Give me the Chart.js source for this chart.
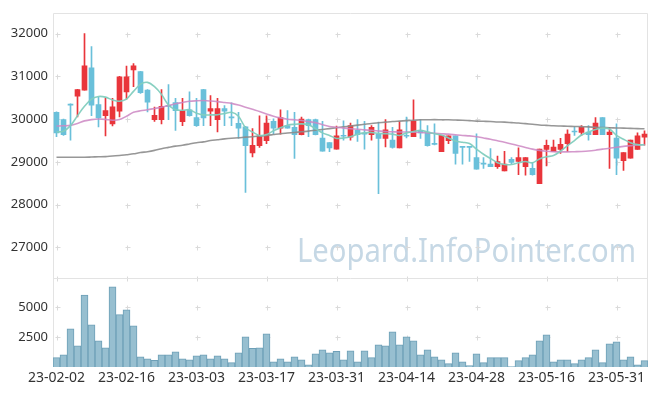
<!DOCTYPE html>
<html>
<head>
<meta charset="utf-8">
<script src="https://cdn.jsdelivr.net/npm/chart.js@4"></script>
<style>
  html, body { margin: 0; padding: 0; background: #fff; }
</style>
</head>
<body>
<canvas id="c" width="657" height="396"></canvas>
<script>
// trading days
const dates = [
  "23-02-02","23-02-03","23-02-06","23-02-07","23-02-08","23-02-09","23-02-10","23-02-13","23-02-14","23-02-15",
  "23-02-16","23-02-17","23-02-20","23-02-21","23-02-22","23-02-23","23-02-24","23-02-27","23-02-28","23-03-02",
  "23-03-03","23-03-06","23-03-07","23-03-08","23-03-09","23-03-10","23-03-13","23-03-14","23-03-15","23-03-16",
  "23-03-17","23-03-20","23-03-21","23-03-22","23-03-23","23-03-24","23-03-27","23-03-28","23-03-29","23-03-30",
  "23-03-31","23-04-03","23-04-04","23-04-05","23-04-06","23-04-07","23-04-10","23-04-11","23-04-12","23-04-13",
  "23-04-14","23-04-17","23-04-18","23-04-19","23-04-20","23-04-21","23-04-24","23-04-25","23-04-26","23-04-27",
  "23-04-28","23-05-02","23-05-03","23-05-04","23-05-08","23-05-09","23-05-10","23-05-11","23-05-12","23-05-15",
  "23-05-16","23-05-17","23-05-18","23-05-19","23-05-22","23-05-23","23-05-24","23-05-25","23-05-26","23-05-30",
  "23-05-31","23-06-01","23-06-02","23-06-05","23-06-07"
];

const opens = [
  30160,29990,30350,30540,30680,31200,30340,30080,29890,30190,
  30640,31150,31110,30680,29990,29990,30310,30390,29940,30220,
  30040,30690,30190,29990,30250,30040,29900,29820,29210,29380,
  29500,29950,29790,29850,29810,29640,29990,29990,29560,29450,
  29300,29620,29580,29740,29670,29640,29650,29550,29510,29330,
  29620,29590,29740,29700,29420,29240,29500,29610,29350,29350,
  29100,28960,28950,28890,28790,29060,29010,28890,28850,28490,
  29290,29240,29290,29430,29710,29690,29700,29640,30040,29640,
  29560,29030,29090,29290,29580
];
const highs = [
  30170,30000,30360,30700,32000,31700,30510,30500,30490,31000,
  31240,31300,31120,30690,30280,30690,30810,30490,30490,30640,
  30490,30700,30550,30490,30320,30380,30160,29830,29780,30080,
  30080,30010,30220,30200,30160,30050,30000,30000,29950,29450,
  29840,29960,29910,29990,29950,29850,29930,29990,29810,29950,
  30050,30450,29990,29850,29890,29620,29610,29610,29360,29360,
  29660,29100,29310,29140,29250,29100,29330,29100,28990,29300,
  29510,29510,29550,29750,29820,29850,29850,30040,30040,29810,
  29890,29220,29510,29680,29730
];
const lows = [
  29590,29620,29510,30050,30680,30080,29820,29610,29840,30050,
  30470,30760,30600,30170,29950,29890,29990,29740,29850,30070,
  29830,29850,29850,29700,29850,29850,29550,28290,29120,29340,
  29430,29650,29650,29790,29080,29630,29590,29630,29250,29240,
  29300,29510,29510,29480,29300,29510,28260,29350,29320,29330,
  29560,29590,29550,29370,29400,29240,29430,28950,28950,29010,
  28830,28850,28890,28850,28790,28960,28700,28690,28690,28490,
  28910,29240,29200,29240,29620,29620,29510,29640,29640,28850,
  28700,28800,29090,29290,29390
];
const closes = [
  29680,29640,30330,30690,31250,30330,30030,30200,30290,30990,
  30990,31250,30620,30400,30090,30300,30300,30200,30200,30080,
  29850,30030,30250,30250,30190,30030,29790,29380,29390,29610,
  29910,29790,30040,29790,29640,30000,29850,29640,29250,29330,
  29610,29600,29850,29640,29650,29810,29550,29750,29340,29750,
  29600,29950,29680,29380,29410,29620,29610,29200,29340,29340,
  28830,28950,28890,29010,28950,28990,29100,29100,28700,29300,
  29390,29350,29410,29650,29700,29810,29640,29910,29640,29700,
  29090,29220,29510,29610,29650
];
const volumes = [
  780,1030,3190,1780,6030,3530,2190,1610,6720,4390,
  4780,3440,860,690,560,1030,1030,1280,690,610,
  940,1030,690,940,690,360,1190,2530,1560,1610,
  2780,440,690,440,860,610,190,1110,1440,1190,
  1310,610,1360,440,1360,780,1860,1780,2940,1860,
  2530,2190,1030,1440,860,610,280,1190,440,110,
  1110,360,780,780,780,30,530,780,1030,2190,
  2690,440,610,610,280,610,780,1440,360,1940,
  2110,610,860,190,530
];
const ma5 = [
  29700,29720,29850,30080,30300,30470,30530,30515,30450,30420,
  30470,30650,30820,30860,30760,30580,30330,30220,30210,30220,
  30140,30100,30100,30105,30130,30160,30070,29800,29700,29620,
  29640,29730,29800,29860,29880,29890,29870,29780,29680,29620,
  29550,29560,29590,29650,29680,29690,29665,29660,29650,29620,
  29680,29710,29740,29700,29660,29630,29560,29490,29460,29430,
  29300,29180,29080,28980,28940,28940,28980,29010,28980,29070,
  29120,29150,29250,29380,29500,29630,29700,29760,29790,29770,
  29620,29530,29450,29405,29400
];
const ma20 = [
  29840,29845,29855,29900,29960,29990,30005,29995,29975,29990,
  30070,30160,30195,30220,30250,30280,30320,30360,30390,30420,
  30430,30435,30425,30410,30390,30370,30330,30280,30230,30180,
  30120,30070,30030,30000,29985,29970,29945,29920,29870,29830,
  29810,29790,29775,29765,29750,29740,29725,29710,29705,29700,
  29700,29695,29690,29680,29670,29660,29650,29635,29620,29610,
  29590,29560,29530,29495,29460,29420,29380,29340,29300,29270,
  29250,29240,29235,29235,29240,29245,29255,29275,29300,29320,
  29345,29365,29380,29395,29405
];
const ma60 = [
  29110,29110,29110,29110,29110,29115,29120,29125,29140,29150,
  29170,29190,29220,29240,29270,29310,29340,29370,29390,29420,
  29450,29470,29500,29520,29540,29555,29565,29580,29590,29605,
  29620,29640,29660,29675,29690,29705,29720,29740,29760,29780,
  29800,29820,29840,29860,29880,29900,29915,29930,29945,29955,
  29965,29975,29985,29985,29990,29985,29985,29980,29975,29965,
  29955,29950,29945,29935,29930,29920,29910,29895,29880,29865,
  29855,29845,29840,29835,29830,29825,29820,29810,29805,29800,
  29795,29790,29785,29780,29775
];

const priceTicks = [27000, 28000, 29000, 30000, 31000, 32000];
const volTicks = [2500, 5000];

const UP = "#e9353b";
const DOWN = "#6ac0da";
const candleColors = opens.map((o, i) => (closes[i] >= o ? UP : DOWN));

// frame, grid crosses and watermark
const decor = {
  id: "decor",
  beforeDatasetsDraw(chart) {
    const { ctx, scales } = chart;
    const x = scales.x, y = scales.y, yv = scales.yv;
    const left = chart.chartArea.left, right = chart.chartArea.right;
    ctx.save();

    // watermark
    ctx.font = '33px "Noto Sans"';
    const txt = "Leopard.InfoPointer.com";
    const w = ctx.measureText(txt).width;
    ctx.fillStyle = "#c6d8e5";
    ctx.translate(297, 262);
    ctx.scale(339 / w, 1);
    ctx.fillText(txt, 0, 0);
    ctx.setTransform(1, 0, 0, 1, 0, 0);

    // crosses
    ctx.strokeStyle = "#dadada";
    ctx.lineWidth = 1;
    const xs = dates.map((d, i) => i).filter(i => i % 10 === 0).map(i => Math.round(x.getPixelForValue(i)) + 0.5);
    const ys = priceTicks.map(v => Math.round(y.getPixelForValue(v)) + 0.5)
      .concat(volTicks.map(v => Math.round(yv.getPixelForValue(v)) + 0.5))
      .concat([Math.round(y.bottom) + 0.5]);
    ctx.beginPath();
    xs.forEach(px => {
      ys.forEach(py => {
        ctx.moveTo(px - 2, py); ctx.lineTo(px + 3, py);
        ctx.moveTo(px, py - 2); ctx.lineTo(px, py + 3);
      });
    });
    ctx.stroke();

    // frame lines
    ctx.strokeStyle = "#e3e3e3";
    ctx.beginPath();
    const l = Math.round(left) + 0.5, r = Math.round(right) - 0.5;
    const t = Math.round(y.top) + 0.5, mid = Math.round(y.bottom) + 0.5, b = Math.round(yv.bottom);
    ctx.moveTo(l, b); ctx.lineTo(l, t); ctx.lineTo(r, t); ctx.lineTo(r, b);
    ctx.moveTo(l, mid); ctx.lineTo(r, mid);
    ctx.stroke();
    ctx.restore();
  }
};

const yFont = { family: "Noto Sans", size: 13 };
const xFont = { family: "Noto Sans", size: 14 };
const plain = v => String(v);

new Chart(document.getElementById("c"), {
  data: {
    labels: dates,
    datasets: [
      {
        type: "line", label: "MA5", data: ma5, yAxisID: "y",
        borderColor: "rgba(130,205,190,0.95)", borderWidth: 1.6,
        pointRadius: 0, tension: 0.3, order: 0
      },
      {
        type: "line", label: "MA20", data: ma20, yAxisID: "y",
        borderColor: "rgba(205,135,195,0.85)", borderWidth: 1.6,
        pointRadius: 0, tension: 0.3, order: 0
      },
      {
        type: "line", label: "MA60", data: ma60, yAxisID: "y",
        borderColor: "rgba(140,140,140,0.9)", borderWidth: 1.6,
        pointRadius: 0, tension: 0.3, order: 0
      },
      {
        type: "bar", label: "body", yAxisID: "y",
        data: opens.map((o, i) => [o, closes[i]]),
        backgroundColor: candleColors, borderWidth: 0,
        barThickness: 5, minBarLength: 1, grouped: false, order: 2
      },
      {
        type: "bar", label: "wick", yAxisID: "y",
        data: lows.map((l, i) => [l, highs[i]]),
        backgroundColor: candleColors, borderWidth: 0,
        barThickness: 1, grouped: false, order: 3
      },
      {
        type: "bar", label: "volume", yAxisID: "yv",
        data: volumes,
        backgroundColor: "#97bfd0", borderColor: "#6d9fb7", borderWidth: 1,
        barPercentage: 1, categoryPercentage: 1, grouped: false, order: 4
      }
    ]
  },
  options: {
    responsive: false,
    animation: false,
    events: [],
    layout: { padding: { top: 10, right: 9, left: 0, bottom: 0 } },
    plugins: { legend: { display: false }, tooltip: { enabled: false } },
    scales: {
      x: {
        type: "category",
        offset: true,
        grid: { display: false, drawTicks: false },
        border: { display: false },
        ticks: {
          autoSkip: false, maxRotation: 0, padding: 3,
          color: "#333", font: xFont,
          callback: function (v, i) { return i % 10 === 0 ? dates[i] : ""; }
        },
        afterFit: s => { s.height = 29; }
      },
      y: {
        type: "linear", position: "left", stack: "panes", stackWeight: 267, weight: 2,
        min: 26285, max: 32487,
        grid: { display: false, drawTicks: false },
        border: { display: false },
        ticks: { padding: 5, color: "#333", font: yFont, callback: plain },
        afterBuildTicks: s => { s.ticks = priceTicks.map(v => ({ value: v })); },
        afterFit: s => { s.width = 53; }
      },
      yv: {
        type: "linear", position: "left", stack: "panes", stackWeight: 89.5, weight: 1,
        min: 0, max: 7450,
        grid: { display: false, drawTicks: false },
        border: { display: false },
        ticks: { padding: 5, color: "#333", font: yFont, callback: plain },
        afterBuildTicks: s => { s.ticks = volTicks.map(v => ({ value: v })); },
        afterFit: s => { s.width = 53; }
      }
    }
  },
  plugins: [decor]
});
</script>
</body>
</html>
